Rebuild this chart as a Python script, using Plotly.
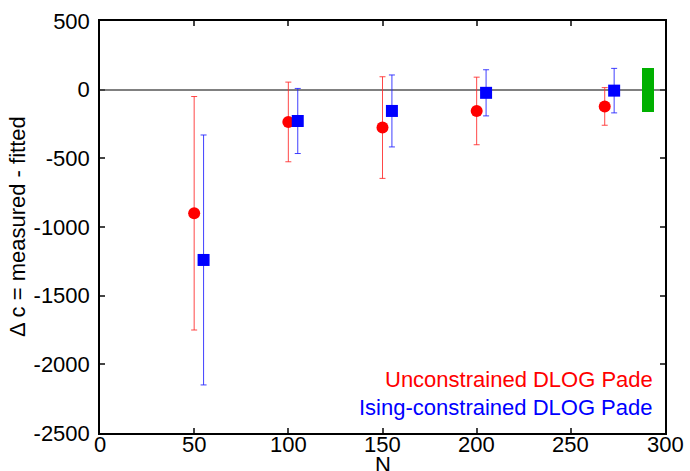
import plotly.graph_objects as go

# Unconstrained DLOG Pade estimates
n_red = [50, 100, 150, 200, 268]
dc_red = [-900, -235, -276, -155, -122]
err_red = [850, 290, 370, 246, 137]

# Ising-constrained DLOG Pade estimates
n_blue = [55, 105, 155, 205, 273]
dc_blue = [-1240, -228, -155, -23, -7]
err_blue = [910, 237, 262, 168, 162]

# Reference band
n_band = [291]
band_low = [-165]
band_high = [158]

x_ticks = [0, 50, 100, 150, 200, 250, 300]
y_ticks = [500, 0, -500, -1000, -1500, -2000, -2500]

FONT = "Liberation Sans, Arial, sans-serif"

fig = go.Figure()

fig.add_trace(go.Bar(
    x=n_band, y=[h - l for h, l in zip(band_high, band_low)], base=band_low,
    width=6, marker=dict(color="#00b000", line=dict(width=0)),
    showlegend=False, hoverinfo="skip",
))

fig.add_trace(go.Scatter(
    x=n_red, y=dc_red, mode="markers",
    marker=dict(symbol="circle", size=12, color="#ff0000", line=dict(width=0)),
    error_y=dict(type="data", array=err_red, visible=True,
                 color="rgba(255,40,40,0.85)", thickness=1, width=3),
    showlegend=False,
))

fig.add_trace(go.Scatter(
    x=n_blue, y=dc_blue, mode="markers",
    marker=dict(symbol="square", size=12, color="#0000ff", line=dict(width=0)),
    error_y=dict(type="data", array=err_blue, visible=True,
                 color="rgba(30,30,255,0.85)", thickness=1, width=3),
    showlegend=False,
))

# Series labels in the lower right corner
fig.add_annotation(x=1, xref="paper", xanchor="right", xshift=-10,
                   y=-2107, yref="y", yanchor="middle", showarrow=False,
                   text="Unconstrained DLOG Pade",
                   font=dict(family=FONT, size=22, color="#ff0000"))
fig.add_annotation(x=1, xref="paper", xanchor="right", xshift=-10,
                   y=-2314, yref="y", yanchor="middle", showarrow=False,
                   text="Ising-constrained DLOG Pade",
                   font=dict(family=FONT, size=22, color="#0000ff"))

# x tick labels sit tight under the axis line
for v in x_ticks:
    fig.add_annotation(x=v, xref="x", xanchor="center",
                       y=0, yref="paper", yanchor="top", yshift=3,
                       showarrow=False, text=str(v),
                       font=dict(family=FONT, size=22, color="black"))

# Axis titles
fig.add_annotation(x=0.5, xref="paper", xanchor="center",
                   y=0, yref="paper", yanchor="top", yshift=-17,
                   showarrow=False, text="N",
                   font=dict(family=FONT, size=22, color="black"))
fig.add_annotation(x=0, xref="paper", xanchor="center", xshift=-83,
                   y=0.5, yref="paper", yanchor="middle",
                   showarrow=False, textangle=-90,
                   text="Δ c = measured - fitted",
                   font=dict(family=FONT, size=22, color="black"))

axis_common = dict(
    showgrid=False, showline=True, linecolor="black", linewidth=1.5,
    mirror="ticks", ticks="inside", ticklen=5, tickwidth=1.5,
    tickcolor="#444444", tickfont=dict(family=FONT, size=22, color="black"),
    automargin=False,
)

fig.update_xaxes(
    range=[0, 300], tickvals=x_ticks, showticklabels=False,
    zeroline=False, **axis_common,
)
fig.update_yaxes(
    range=[-2500, 500], tickvals=y_ticks, ticktext=[str(v) for v in y_ticks],
    zeroline=True, zerolinecolor="#808080", zerolinewidth=2,
    ticklabelstandoff=4, **axis_common,
)

fig.update_layout(
    width=690, height=471,
    margin=dict(l=100, r=25, t=21, b=38),
    paper_bgcolor="white", plot_bgcolor="white",
    bargap=0,
)

fig.write_html("out.html")
